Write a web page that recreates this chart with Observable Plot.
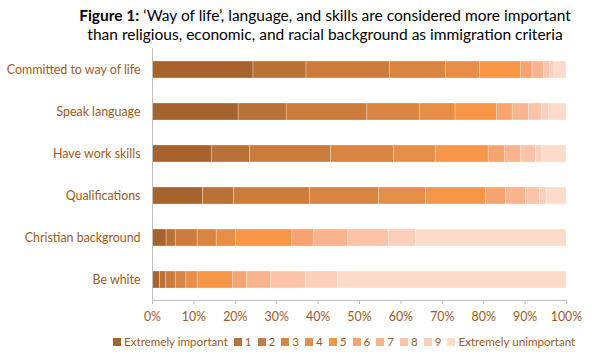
<!DOCTYPE html>
<html>
<head>
<meta charset="utf-8">
<script src="https://cdn.jsdelivr.net/npm/d3@7"></script>
<script src="https://cdn.jsdelivr.net/npm/@observablehq/plot@0.6"></script>
<style>
  body { margin: 0; background: #fff; font-family: Lato, "Open Sans", sans-serif; }
  #wrap { width: 592px; height: 361px; position: relative; overflow: hidden; }
  #title { position: absolute; top: 6px; left: 60px; width: 530px; text-align: center; font-size: 15.5px; line-height: 19px; color: #000; }
  #chart { position: absolute; top: 46px; left: 0; }
  #legend { position: absolute; top: 335px; left: 113px; display: flex; align-items: center; font-size: 11.6px; color: #9c5a24; white-space: nowrap; }
  #legend span.sw { display: inline-block; width: 8px; height: 8px; margin-right: 3px; }
  #legend span.it { display: inline-flex; align-items: center; margin-right: 6px; }
</style>
</head>
<body>
<div id="wrap">
  <div id="title"><b>Figure 1:</b> ‘Way of life’, language, and skills are considered more important<br>than religious, economic, and racial background as immigration criteria</div>
  <div id="chart"></div>
  <div id="legend"></div>
</div>
<script>
const criteria = ["Committed to way of life", "Speak language", "Have work skills", "Qualifications", "Christian background", "Be white"];
const levels = ["Extremely important", "1", "2", "3", "4", "5", "6", "7", "8", "9", "Extremely unimportant"];
const colors = ["#a6632e", "#b87136", "#cb7b3b", "#d98441", "#e68e45", "#f79646", "#f8a470", "#f9b48e", "#fbc3a8", "#fccfbb", "#fddbcb"];

const committedToWayOfLife = [24.4, 12.8, 20.2, 13.5, 8.2, 9.9, 2.8, 2.8, 1.5, 1.0, 2.9];
const speakLanguage        = [20.8, 11.6, 19.5, 12.7, 8.6, 10.0, 3.8, 3.9, 3.1, 1.7, 4.3];
const haveWorkSkills       = [14.3, 9.3, 19.5, 15.2, 10.1, 12.8, 3.9, 4.0, 3.5, 1.6, 5.8];
const qualifications       = [12.2, 7.5, 18.4, 16.6, 11.4, 14.5, 4.8, 4.8, 3.4, 1.6, 4.8];
const christianBackground  = [3.4, 2.2, 5.3, 4.6, 4.7, 13.6, 5.3, 8.2, 9.8, 6.5, 36.4];
const beWhite              = [1.8, 1.4, 2.4, 2.6, 2.7, 8.6, 3.4, 5.8, 8.3, 7.8, 55.2];

const xTicks = [0, 10, 20, 30, 40, 50, 60, 70, 80, 90, 100];

const series = [committedToWayOfLife, speakLanguage, haveWorkSkills, qualifications, christianBackground, beWhite];
const data = [];
criteria.forEach((c, i) => levels.forEach((l, j) => data.push({crit: c, level: l, value: series[i][j]})));

const brown = "#9c5a24";
const chart = Plot.plot({
  width: 592,
  height: 284,
  marginLeft: 152,
  marginRight: 26,
  marginTop: 2,
  marginBottom: 30,
  style: {fontFamily: "Lato, 'Open Sans', sans-serif", fontSize: "12px", color: brown, background: "#fff"},
  x: {domain: [0, 100], ticks: xTicks, tickFormat: d => d + "%", label: null},
  y: {domain: criteria, paddingInner: 0.6, paddingOuter: 0.3, label: null},
  color: {domain: levels, range: colors},
  marks: [
    Plot.barX(data, {x: "value", y: "crit", fill: "level", stroke: "#fff", strokeWidth: 0.5, strokeOpacity: 0.6}),
    Plot.ruleX([0], {stroke: "#bfbfbf"}),
    Plot.frame({anchor: "bottom", stroke: "#bfbfbf"}),
    Plot.axisX({ticks: xTicks, tickFormat: d => d + "%", tickSize: 4, tickPadding: 8, stroke: "#bfbfbf", fill: brown, fontSize: 12.4, label: null}),
    Plot.axisY({tickSize: 0, tickPadding: 12, fill: brown, fontSize: 12.4, label: null})
  ]
});
document.getElementById("chart").appendChild(chart);

const legend = document.getElementById("legend");
levels.forEach((l, i) => {
  const it = document.createElement("span");
  it.className = "it";
  const sw = document.createElement("span");
  sw.className = "sw";
  sw.style.background = colors[i];
  it.appendChild(sw);
  it.appendChild(document.createTextNode(l));
  legend.appendChild(it);
});
</script>
</body>
</html>
